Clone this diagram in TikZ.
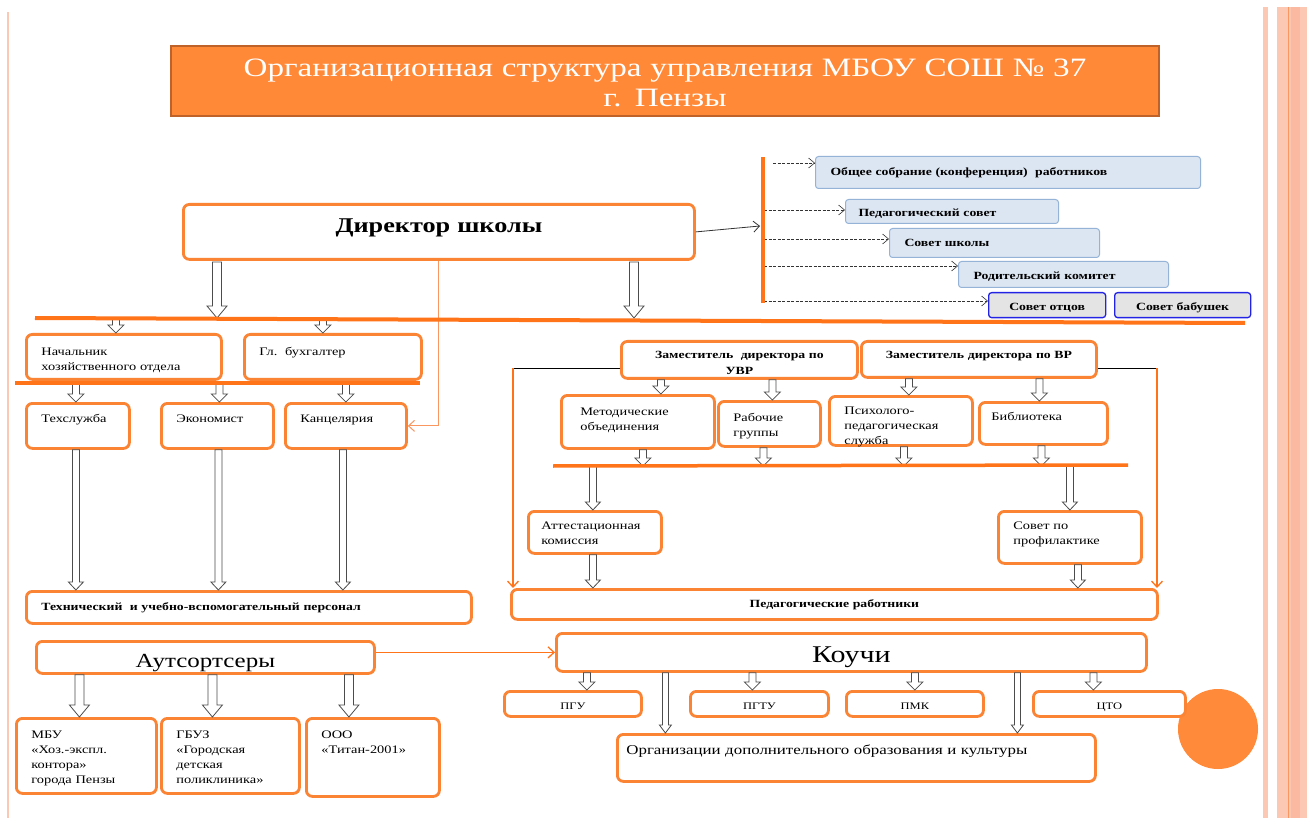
\documentclass[tikz,border=0pt]{standalone}
\usepackage{fontspec}
\setmainfont{Liberation Serif}[FakeStretch=1.25]
\usetikzlibrary{arrows.meta,calc}

\definecolor{orline}{RGB}{251,131,52}
\definecolor{orbar}{RGB}{255,115,25}
\definecolor{orthin}{RGB}{250,150,95}
\definecolor{ortitle}{RGB}{255,137,55}
\definecolor{ortitleb}{RGB}{190,98,42}
\definecolor{blfill}{RGB}{220,230,242}
\definecolor{bldraw}{RGB}{149,179,215}
\definecolor{gyfill}{RGB}{228,228,228}
\definecolor{gydraw}{RGB}{35,35,230}
\definecolor{salmon}{RGB}{252,200,180}
\definecolor{salmondk}{RGB}{250,185,160}
\definecolor{orball}{RGB}{255,138,58}

\newcommand{\fsreg}{\fontsize{11.5}{15}\selectfont}
\newcommand{\fsbold}{\fontsize{11}{16}\selectfont\bfseries}
\newcommand{\fstitle}{\fontsize{26.5}{30}\selectfont}
\newcommand{\fsdir}{\fontsize{21}{24}\selectfont\bfseries}
\newcommand{\fsmid}{\fontsize{20}{24}\selectfont}
\newcommand{\fskoi}{\fontsize{24}{28}\selectfont}
\newcommand{\fsuni}{\fontsize{10}{12}\selectfont}
\newcommand{\fsorg}{\fontsize{13.5}{16}\selectfont}

% hollow block arrow: x offset, shaft, head, head length, from, to
\newcommand{\hollowarr}[6]{%
  \draw[blockline] let \p1=(#5), \p2=(#6) in
    (\x1+#1pt-#2pt,\y1) -- (\x1+#1pt-#2pt,\y2+#4pt) -- (\x1+#1pt-#3pt,\y2+#4pt)
    -- (\x1+#1pt,\y2) -- (\x1+#1pt+#3pt,\y2+#4pt) -- (\x1+#1pt+#2pt,\y2+#4pt)
    -- (\x1+#1pt+#2pt,\y1) -- cycle;}
\newcommand{\smallarr}[3][0]{\hollowarr{#1}{3.5}{8}{8}{#2}{#3}}
\newcommand{\longarr}[3][0]{\hollowarr{#1}{3.5}{7.5}{8}{#2}{#3}}
\newcommand{\thinarr}[3][0]{\hollowarr{#1}{3}{6}{8}{#2}{#3}}
\newcommand{\bigarr}[3][0]{\hollowarr{#1}{4.5}{10}{12}{#2}{#3}}

\begin{document}
\begin{tikzpicture}[x=1pt, y=-1pt,
    obox/.style={draw=orline, line width=2.8pt, rounded corners=6pt, fill=white,
      anchor=north west, inner xsep=15pt, inner ysep=0pt, align=left, font=\fsreg},
    sz/.style n args={3}{text width=#1pt-30pt, text height=#3pt, text depth=#2pt-#3pt},
    cbox/.style={obox, draw=bldraw, fill=blfill, line width=1pt, rounded corners=3pt, font=\fsbold},
    gbox/.style={obox, draw=gydraw, fill=gyfill, line width=1.3pt, rounded corners=3pt,
      font=\fsbold, align=center},
    titlebox/.style={obox, draw=ortitleb, fill=ortitle, line width=2pt, rounded corners=0pt,
      text=white, align=center, font=\fstitle},
    blockline/.style={draw=black!70, fill=white, line width=0.8pt},
    orbarline/.style={draw=orbar, line width=4pt},
    dasharr/.style={draw=black!80, dash pattern=on 3pt off 1.5pt, line width=0.6pt,
      -{Straight Barb[length=6pt,width=10pt]}},
    linkarr/.style={draw=black!80, line width=0.8pt, -{Straight Barb[length=6pt,width=11pt]}},
    orarr/.style={draw=orbar, line width=1.3pt, -{Straight Barb[length=6pt,width=11pt]}},
    blackline/.style={draw=black, line width=0.8pt}]

\fill[white] (0,0) rectangle (1307,818);
\useasboundingbox (0,0) rectangle (1307,818);

% page decoration
\fill[salmon] (7,12) rectangle (9,818);
\fill[salmon] (1263,7) rectangle (1268,818);
\fill[salmon] (1277,7) rectangle (1307,818);
\fill[salmondk] (1291,7) rectangle (1300,818);
\draw[orthin, line width=0.8pt] (1288,7) -- (1288,818);
\fill[orball] (1218,729) circle (40pt);

% title
\node[titlebox, sz={988}{70}{31}] (title) at (170,45)
  {Организационная структура управления МБОУ СОШ № 37\\г. Пензы};

% director and councils
\node[obox, font=\fsdir, align=center, sz={511}{55}{28}] (dir) at (182,203) {Директор школы};
\node[cbox, sz={385}{32}{19}] (c1) at (815,156) {Общее собрание (конференция)\ \ работников};
\node[cbox, inner xsep=13pt, sz={217}{24}{17}] (c2) at (845,199) {Педагогический совет};
\node[cbox, sz={210}{29}{18}] (c3) at (889,228) {Совет школы};
\node[cbox, sz={210}{26}{18}] (c4) at (958,261) {Родительский комитет};
\node[gbox, sz={117}{25}{18}] (c5) at (988,292) {Совет отцов};
\node[gbox, sz={136}{25}{18}] (c6) at (1114,292) {Совет бабушек};

% left branch
\node[obox, sz={195}{45}{21}] (nach) at (25,333) {Начальник\\хозяйственного отдела};
\node[obox, sz={177}{45}{21}] (buh) at (243,333) {Гл.\ \ бухгалтер};
\node[obox, sz={103}{45}{19}] (tex) at (25,402) {Техслужба};
\node[obox, sz={112}{45}{19}] (eco) at (160,402) {Экономист};
\node[obox, sz={121}{45}{19}] (kanc) at (284,402) {Канцелярия};
\node[obox, font=\fsbold, sz={445}{32}{19}] (pers) at (25,590)
  {Технический\ \ и учебно-вспомогательный персонал};

% outsourcers
\node[obox, font=\fsmid, align=center, sz={338}{32}{26}] (ausors) at (35,640) {Аутсортсеры};
\node[obox, sz={140}{75}{20}] (mbu) at (15,717) {МБУ\\«Хоз.-экспл.\\контора»\\города Пензы};
\node[obox, sz={138}{75}{20}] (gbuz) at (160,717) {ГБУЗ\\«Городская\\детская\\поликлиника»};
\node[obox, sz={133}{78}{20}] (ooo) at (305,717) {ООО\\«Титан-2001»};

% right branch
\node[obox, font=\fsbold, align=center, sz={236}{37}{17}] (uvr) at (620,340)
  {Заместитель\ \ директора по\\УВР};
\node[obox, font=\fsbold, align=center, sz={235}{36}{17}] (vr) at (860,340)
  {Заместитель директора по ВР};
\node[obox, inner xsep=19pt, sz={145}{53}{20}] (metod) at (560,394) {Методические\\объединения};
\node[obox, sz={102}{45}{20}] (rab) at (717,400) {Рабочие\\группы};
\node[obox, sz={143}{49}{18}] (psy) at (828,395) {Психолого-\\педагогическая\\служба};
\node[obox, inner xsep=12pt, sz={134}{42}{18}] (bib) at (978,401) {Библиотека};
\node[obox, inner xsep=13pt, sz={137}{42}{18}] (att) at (527,510) {Аттестационная\\комиссия};
\node[obox, sz={143}{52}{18}] (sov) at (997,510) {Совет по\\профилактике};
\node[obox, font=\fsbold, align=center, sz={646}{30}{18}] (pedr) at (510,588) {Педагогические работники};

% coaches
\node[obox, font=\fskoi, align=center, sz={590}{38}{29}] (koichi) at (555,632) {Коучи};
\node[obox, font=\fsuni, align=center, sz={137}{25}{18}] (pgu) at (503,690) {ПГУ};
\node[obox, font=\fsuni, align=center, sz={138}{25}{18}] (pgtu) at (689,690) {ПГТУ};
\node[obox, font=\fsuni, align=center, sz={137}{25}{18}] (pmk) at (845,690) {ПМК};
\node[obox, font=\fsuni, align=center, sz={152}{25}{18}] (cto) at (1032,690) {ЦТО};
\node[obox, font=\fsorg, sz={478}{47}{20}, inner xsep=9pt, text width=460pt] (orgd) at (616,733)
  {Организации дополнительного образования и культуры};

% bars
\coordinate (barT) at (763,157);
\coordinate (barB) at (763,303);
\coordinate (barIn) at (760,226);
\coordinate (l1a) at (35,318);
\coordinate (l1b) at (1245,323);
\coordinate (l2a) at (15,383);
\coordinate (l2b) at (420,383);
\coordinate (l3a) at (553,466);
\coordinate (l3b) at (1128,465);
\coordinate (d1) at (217,262);
\coordinate (d2) at (634,262);
\coordinate (lk) at (513,368);
\coordinate (rk) at (1157,368);
\coordinate (k1) at (773,163);
\coordinate (k2) at (764,210);
\coordinate (k3) at (764,239);
\coordinate (k4) at (764,266);
\coordinate (k5) at (764,301);

% director links
\draw[linkarr] (dir.east) -- (barIn);
\draw[dasharr] (k1) -- (k1 -| c1.west);
\draw[dasharr] (k2) -- (k2 -| c2.west);
\draw[dasharr] (k3) -- (k3 -| c3.west);
\draw[dasharr] (k4) -- (k4 -| c4.west);
\draw[dasharr] (k5) -- (k5 -| c5.west);
\bigarr{d1}{d1 |- l1a}
\bigarr{d2}{d2 |- l1a}
\draw[orarr, draw=orthin, line width=1pt] (dir.south) |- (kanc.east);

% left arrows
\smallarr[-8]{nach.north |- l1a}{nach.north}
\smallarr[-10]{buh.north |- l1a}{buh.north}
\smallarr[-2]{tex.north |- l2a}{tex.north}
\smallarr[2]{eco.north |- l2a}{eco.north}
\smallarr{kanc.north |- l2a}{kanc.north}
\longarr[-2]{tex.south}{tex.south |- pers.north}
\longarr[1]{eco.south}{eco.south |- pers.north}
\longarr[-3]{kanc.south}{kanc.south |- pers.north}
\bigarr[-7]{mbu.north |- ausors.south}{mbu.north}
\bigarr[-18]{gbuz.north |- ausors.south}{gbuz.north}
\bigarr[-24]{ooo.north |- ausors.south}{ooo.north}
\draw[orarr] (ausors.east |- koichi.west) -- (koichi.west);

% right arrows
\draw[blackline] (lk -| uvr.west) -- (lk);
\draw[orarr] (lk) -- (lk |- pedr.north);
\draw[blackline] (rk -| vr.east) -- (rk);
\draw[orarr] (rk) -- (rk |- pedr.north);
\smallarr[23]{metod.north |- uvr.south}{metod.north}
\smallarr[3]{rab.north |- uvr.south}{rab.north}
\smallarr[8]{psy.north |- vr.south}{psy.north}
\smallarr[-4]{bib.north |- vr.south}{bib.north}
\smallarr[5]{metod.south}{metod.south |- l3a}
\smallarr[-6]{rab.south}{rab.south |- l3a}
\smallarr[3]{psy.south}{psy.south |- l3a}
\smallarr[-2]{bib.south}{bib.south |- l3a}
\longarr[-2]{att.north |- l3a}{att.north}
\longarr{sov.north |- l3a}{sov.north}
\longarr[-2]{att.south}{att.south |- pedr.north}
\longarr[8]{sov.south}{sov.south |- pedr.north}

% coaches arrows
\smallarr[14]{pgu.north |- koichi.south}{pgu.north}
\smallarr[-7]{pgtu.north |- koichi.south}{pgtu.north}
\smallarr{pmk.north |- koichi.south}{pmk.north}
\smallarr[-16]{cto.north |- koichi.south}{cto.north}
\thinarr[-191]{orgd.north |- koichi.south}{orgd.north}
\thinarr[161]{orgd.north |- koichi.south}{orgd.north}

% orange bars on top
\draw[orbarline] (barT) -- (barB);
\draw[orbarline] (l1a) -- (l1b);
\draw[orbarline, line width=3.5pt] (l2a) -- (l2b);
\draw[orbarline, line width=3.5pt] (l3a) -- (l3b);
\end{tikzpicture}
\end{document}
